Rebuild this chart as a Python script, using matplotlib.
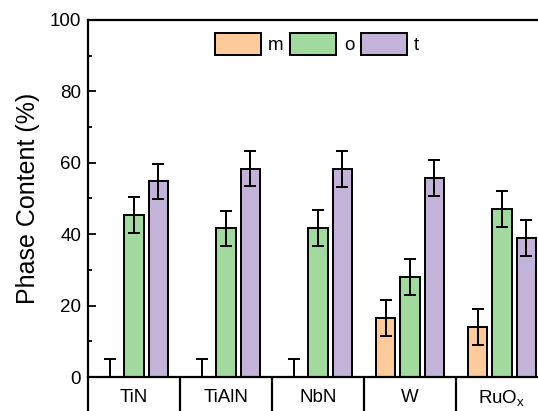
import numpy as np
import matplotlib
matplotlib.use('Agg')
import matplotlib.pyplot as plt
from matplotlib.ticker import MultipleLocator, FixedLocator

plt.rcParams['font.family'] = ['Liberation Sans', 'DejaVu Sans']
plt.rcParams['mathtext.fontset'] = 'custom'
plt.rcParams['mathtext.rm'] = 'Liberation Sans'

categories = ['TiN', 'TiAlN', 'NbN', 'W', 'RuO$_\\mathregular{x}$']
phases = ['m', 'o', 't']
m_vals = [0, 0, 0, 16.5, 14.0]
o_vals = [45.3, 41.6, 41.8, 28.0, 47.0]
t_vals = [54.8, 58.4, 58.2, 55.7, 38.9]
m_err = [5, 5, 5, 5, 5]
o_err = [5, 5, 5, 5, 5]
t_err = [5, 5, 5, 5, 5]
colors = ['#FDCA9B', '#A1D99F', '#C3B3D8']

fig = plt.figure(figsize=(5.38, 4.11), dpi=100)
ax = fig.add_axes([88/538, 34/411, 460/538, 357/411])

x = np.arange(len(categories)) + 0.5
width = 0.21
offsets = [-0.265, 0, 0.265]
series = [(m_vals, m_err), (o_vals, o_err), (t_vals, t_err)]
for (vals, errs), off, col, lab in zip(series, offsets, colors, phases):
    ax.bar(x + off, vals, width, color=col, edgecolor='black', linewidth=1.4, label=lab, zorder=2)
    ax.errorbar(x + off, vals, yerr=errs, fmt='none', ecolor='black', elinewidth=1.4,
                capsize=4.5, capthick=1.4, zorder=3)

ax.set_xlim(0, 5)
ax.set_ylim(0, 100)
ax.yaxis.set_major_locator(MultipleLocator(20))
ax.yaxis.set_minor_locator(MultipleLocator(10))
ax.tick_params(axis='y', which='major', direction='in', length=6, width=1.3, labelsize=13.5, pad=5)
ax.tick_params(axis='y', which='minor', direction='in', length=3, width=1.3)
ax.tick_params(axis='y', right=False)

ax.xaxis.set_major_locator(FixedLocator([0, 1, 2, 3, 4, 5]))
ax.xaxis.set_minor_locator(FixedLocator(x))
ax.set_xticklabels([])
ax.set_xticklabels(categories, minor=True)
ax.tick_params(axis='x', which='major', direction='out', length=25, width=1.6)
ax.tick_params(axis='x', which='minor', length=0, labelsize=13.5, pad=8.5)

for s in ['left', 'bottom', 'top']:
    ax.spines[s].set_linewidth(1.6)
ax.spines['right'].set_visible(False)

ax.set_ylabel('Phase Content (%)', fontsize=18, labelpad=7)

leg = ax.legend(loc='upper center', bbox_to_anchor=(317/538, 1 - 26/411), bbox_transform=fig.transFigure,
                ncol=3, frameon=False, fontsize=13.5, handlelength=2.45, handleheight=1.35,
                handletextpad=0.4, columnspacing=0.35, borderaxespad=0)
for p in leg.get_patches():
    p.set_linewidth(1.4)

fig.savefig('out.png', dpi=100)
